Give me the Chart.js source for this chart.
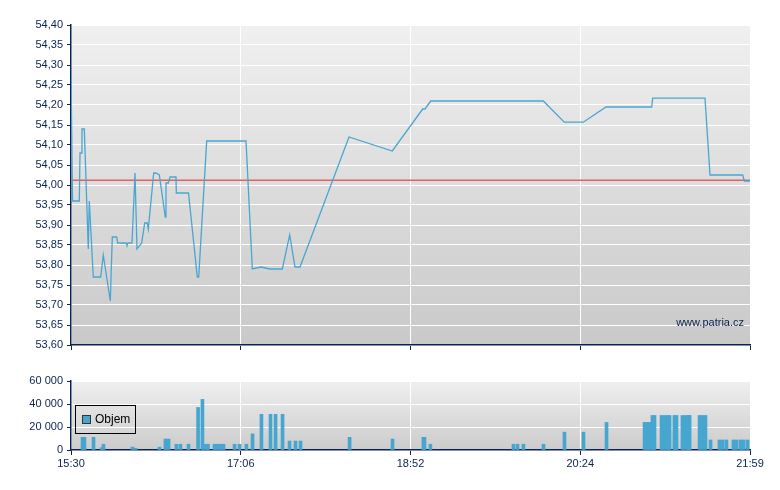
<!DOCTYPE html>
<html lang="cs">
<head>
<meta charset="UTF-8">
<title>Patria - graf</title>
<script src="https://cdn.jsdelivr.net/npm/chart.js"></script>
<style>
    body {
        margin: 0;
        padding: 0;
        background: #fff;
        font-family: "Liberation Sans", Arial, sans-serif;
    }
    #wrap {
        position: relative;
        width: 780px;
        height: 490px;
    }
    #priceChart {
        position: absolute;
        left: 0;
        top: 0;
    }
    #volChart {
        position: absolute;
        left: 0;
        top: 360px;
    }
</style>
</head>
<body>
<div id="wrap">
    <canvas id="priceChart" width="780" height="360"></canvas>
    <canvas id="volChart" width="780" height="130"></canvas>
</div>

<script>
// minutes since 15:30
const tickLabels = ["15:30", "17:06", "18:52", "20:24", "21:59"];
const tickPos = [0, 97.25, 194.5, 291.75, 389];

const priceTimes = [0, 0.86, 4.76, 5.16, 5.73, 6.30, 7.62, 9.91, 10.48, 12.78,
    17.01, 18.50, 22.51, 23.66, 26.18, 26.75, 31.51, 32.08, 32.66, 34.95,
    36.67, 37.81, 40.50, 42.22, 43.71, 44.28, 47.38, 48.70, 50.59, 54.02,
    54.42, 55.74, 56.72, 60.15, 60.33, 67.32, 72.36, 73.16, 77.74, 100.26,
    103.87, 108.85, 114.01, 121.05, 125.29, 128.33, 131.19, 159.26, 184.07, 201.49,
    202.81, 206.07, 270.58, 282.61, 293.50, 306.50, 332.69, 333.26, 363.22, 366.09,
    384.82, 385.74, 389];
const priceValues = [54.28, 53.96, 53.96, 54.08, 54.08, 54.14, 54.14, 53.84, 53.96, 53.77,
    53.77, 53.825, 53.71, 53.87, 53.87, 53.855, 53.855, 53.85, 53.855, 53.855,
    54.03, 53.84, 53.855, 53.905, 53.905, 53.89, 54.03, 54.03, 54.025, 53.92,
    54.005, 54.005, 54.02, 54.02, 53.98, 53.98, 53.77, 53.77, 54.11, 54.11,
    53.79, 53.795, 53.79, 53.79, 53.875, 53.795, 53.795, 54.12, 54.085, 54.19,
    54.19, 54.21, 54.21, 54.157, 54.157, 54.195, 54.195, 54.217, 54.217, 54.025,
    54.025, 54.01, 54.01];

const refPrice = 54.012;

const volTimes = [6.6, 7.7, 12.9, 17.5, 18.6, 35.2, 37.0, 50.7, 54.1, 55.9,
    60.4, 62.7, 67.3, 72.8, 75.3, 77.3, 78.5, 82.2, 83.9, 85.6,
    87.4, 93.7, 96.5, 100.5, 104.0, 109.1, 114.3, 117.2, 121.2, 125.2,
    128.6, 131.5, 159.6, 184.2, 201.9, 202.5, 205.9, 253.5, 255.8, 259.2,
    270.7, 282.7, 293.6, 306.8, 328.6, 330.3, 331.4, 333.1, 334.3, 338.3,
    340.0, 341.7, 342.9, 345.7, 346.9, 350.3, 352.1, 353.8, 354.4, 360.1,
    361.8, 363.5, 366.4, 371.5, 373.3, 375.5, 379.5, 381.3, 383.6, 385.3,
    387.6];
const volValues = [11000, 11000, 11000, 2000, 5000, 2500, 1500, 2500, 9500, 9500,
    5000, 5000, 5000, 37000, 44000, 5000, 5000, 5000, 5000, 5000,
    5000, 5000, 5000, 5000, 14000, 31000, 31000, 31000, 31000, 7800,
    7800, 7800, 11000, 9500, 11000, 11000, 5000, 5000, 5000, 5000,
    5000, 15500, 15500, 24000, 24000, 24000, 24000, 30000, 30000, 30000,
    30000, 30000, 30000, 30000, 30000, 30000, 30000, 30000, 30000, 30000,
    30000, 30000, 8700, 8700, 8700, 8700, 8700, 8700, 8700, 8700,
    8700];

const navy = "#0b2352";
const fontSpec = { family: "'Liberation Sans', Arial, sans-serif", size: 11 };

// pozadi grafu - prechod
const bgPlugin = {
    id: "bg",
    beforeDraw(chart, args, opts) {
        const a = chart.chartArea;
        const ctx = chart.ctx;
        const g = ctx.createLinearGradient(0, a.top, 0, a.bottom);
        g.addColorStop(0, opts.top);
        g.addColorStop(1, opts.bottom);
        ctx.save();
        ctx.fillStyle = g;
        ctx.fillRect(a.left, a.top, a.right - a.left, a.bottom - a.top);
        ctx.restore();
    }
};

const watermark = {
    id: "watermark",
    afterDraw(chart) {
        const ctx = chart.ctx;
        ctx.save();
        ctx.font = "11px 'Liberation Sans', Arial, sans-serif";
        ctx.fillStyle = navy;
        ctx.textAlign = "right";
        ctx.textBaseline = "middle";
        ctx.fillText("www.patria.cz", chart.chartArea.right - 6, chart.chartArea.bottom - 22);
        ctx.restore();
    }
};

const boxLegend = {
    id: "boxLegend",
    afterDraw(chart) {
        const ctx = chart.ctx;
        const ds = chart.data.datasets[0];
        const x = chart.chartArea.left + 4;
        const y = chart.chartArea.top + 24;
        ctx.save();
        ctx.strokeStyle = "#000";
        ctx.lineWidth = 1;
        ctx.strokeRect(x + 0.5, y + 0.5, 60, 28);
        ctx.fillStyle = ds.backgroundColor;
        ctx.fillRect(x + 8, y + 11, 7, 7);
        ctx.strokeStyle = "#333";
        ctx.strokeRect(x + 7.5, y + 10.5, 8, 8);
        ctx.font = "12px 'Liberation Sans', Arial, sans-serif";
        ctx.fillStyle = "#000";
        ctx.textBaseline = "middle";
        ctx.fillText(ds.label, x + 20, y + 15);
        ctx.restore();
    }
};

function xScale(showLabels) {
    return {
        type: "linear",
        min: 0,
        max: 389,
        offset: false,
        afterBuildTicks(scale) {
            scale.ticks = tickPos.map(v => ({ value: v }));
        },
        afterFit(scale) {
            scale.height = showLabels ? 40 : 15;
        },
        ticks: {
            display: showLabels,
            color: navy,
            font: fontSpec,
            padding: 2,
            maxRotation: 0,
            autoSkip: false,
            callback: (v, i) => tickLabels[i]
        },
        grid: {
            offset: false,
            color: "#ffffff",
            lineWidth: 1,
            tickColor: navy,
            tickLength: 5
        },
        border: { color: navy, width: 1.5 }
    };
}

new Chart(document.getElementById("priceChart"), {
    type: "line",
    data: {
        datasets: [
            {
                label: "Cena",
                data: priceTimes.map((t, i) => ({ x: t, y: priceValues[i] })),
                borderColor: "#4aa6d0",
                borderWidth: 1.3,
                pointRadius: 0,
                tension: 0
            },
            {
                label: "Ref",
                data: [{ x: 0, y: refPrice }, { x: 389, y: refPrice }],
                borderColor: "#e06262",
                borderWidth: 1.5,
                pointRadius: 0
            }
        ]
    },
    options: {
        responsive: false,
        animation: false,
        layout: { padding: { top: 25, right: 30, bottom: 0, left: 0 } },
        plugins: {
            legend: { display: false },
            tooltip: { enabled: false },
            bg: { top: "#f0f0f0", bottom: "#c9c9c9" }
        },
        scales: {
            x: xScale(false),
            y: {
                min: 53.6,
                max: 54.4,
                afterFit(scale) { scale.width = 71; },
                ticks: {
                    stepSize: 0.05,
                    color: navy,
                    font: fontSpec,
                    padding: 4,
                    callback: v => v.toFixed(2).replace(".", ",")
                },
                grid: { color: "#ffffff", tickColor: navy, tickLength: 4 },
                border: { color: navy, width: 1.5 }
            }
        }
    },
    plugins: [bgPlugin, watermark]
});

new Chart(document.getElementById("volChart"), {
    type: "bar",
    data: {
        datasets: [{
            label: "Objem",
            data: volTimes.map((t, i) => ({ x: t, y: volValues[i] })),
            backgroundColor: "#46a6d0",
            barThickness: 3
        }]
    },
    options: {
        responsive: false,
        animation: false,
        layout: { padding: { top: 21, right: 30, bottom: 0, left: 0 } },
        plugins: {
            legend: { display: false },
            tooltip: { enabled: false },
            bg: { top: "#efefef", bottom: "#cccccc" }
        },
        scales: {
            x: xScale(true),
            y: {
                min: 0,
                max: 60000,
                afterFit(scale) { scale.width = 71; },
                ticks: {
                    stepSize: 20000,
                    color: navy,
                    font: fontSpec,
                    padding: 4,
                    callback: v => v === 0 ? "0" : (v / 1000) + " 000"
                },
                grid: { color: "#ffffff", tickColor: navy, tickLength: 4 },
                border: { color: navy, width: 1.5 }
            }
        }
    },
    plugins: [bgPlugin, boxLegend]
});
</script>
</body>
</html>
